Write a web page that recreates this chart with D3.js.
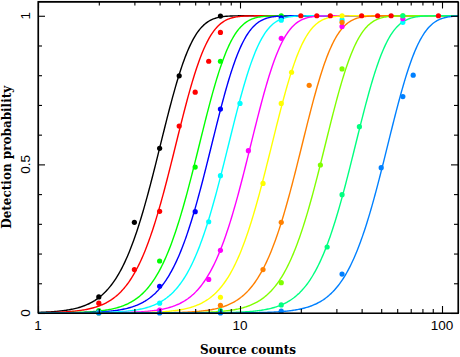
<!DOCTYPE html>
<html><head><meta charset="utf-8">
<script src="https://cdn.jsdelivr.net/npm/d3@7"></script>
<style>
html,body{margin:0;padding:0;background:#fff;}
svg{display:block;}
</style></head>
<body>
<svg id="chart" width="460" height="357"></svg>
<script>
// ---- data ----
const seriesColors = ["#000000","#ff0000","#00ff00","#0000ff","#00ffff","#ff00ff","#ffff00","#ff8000","#80ff00","#00ff80","#0080ff"];
// model-curve parameters (50% point, shared steepness)
const curveMid = [3.82, 4.55, 5.95, 6.85, 8.3, 10.7, 13.6, 19.2, 25.0, 35.3, 51.0];
const curveSharpness = 5.9;

// measured points [source counts, detection probability]
const blackPts   = [[2,0.054],[3,0.305],[4,0.554],[5,0.798],[8,0.999]];
const redPts     = [[2,0.033],[3,0.146],[4,0.342],[5,0.629],[6,0.743],[7,0.847],[8,0.944]];
const greenPts   = [[2,0.008],[4,0.175],[6,0.491],[8,0.847],[16,1.0]];
const bluePts    = [[2,0.003],[4,0.09],[6,0.341],[8,0.686],[16,0.993]];
const cyanPts    = [[2,0.002],[4,0.033],[7,0.307],[8,0.462],[10,0.705],[16,0.985],[32,0.986],[64,0.978]];
const magentaPts = [[4,0.01],[7,0.113],[8,0.211],[11,0.546],[16,0.924],[32,0.964],[64,0.99]];
const yellowPts  = [[8,0.053],[13,0.436],[16,0.705],[18,0.81],[32,1.0]];
const orangePts  = [[8,0.026],[13,0.146],[16,0.305],[22,0.766],[32,0.978]];
const chartPts   = [[2,0.0],[8,0.005],[16,0.102],[25,0.498],[32,0.821],[64,1.0]];
const springPts  = [[8,0.008],[16,0.027],[27,0.222],[32,0.398],[39,0.627],[64,1.0]];
const azurePts   = [[2,0.0],[4,0.0],[8,0.0],[16,0.006],[32,0.131],[50,0.489],[64,0.728],[72,0.80]];
const redTopPts  = [[20,1.0],[24,1.0],[28,1.0],[40,1.0],[48,1.0],[56,1.0],[96,1.0]];

const xMajor = [1, 10, 100];
const xMinor = [2,3,4,5,6,7,8,9,20,30,40,50,60,70,80,90];
const yMajor = [0, 0.5, 1];
const yMinor = [0.1,0.2,0.3,0.4,0.6,0.7,0.8,0.9];
const xTitle = "Source counts";
const yTitle = "Detection probability";

// ---- layout ----
const L = 38, R = 458, T = 1.5, B = 313;
const svg = d3.select("#chart");
const x = d3.scaleLog().domain([1, 120]).range([L, R]);
const y = d3.scaleLinear().domain([0, 1.048]).range([B, T]);

function erf(v){
  const s = v < 0 ? -1 : 1; v = Math.abs(v);
  const t = 1/(1+0.3275911*v);
  const p = t*(0.254829592+t*(-0.284496736+t*(1.421413741+t*(-1.453152027+t*1.061405429))));
  return s*(1 - p*Math.exp(-v*v));
}
function model(c, mid){
  const z = curveSharpness*(Math.sqrt(c/mid)-1);
  return 0.5*(1+erf(z/Math.SQRT2));
}

svg.append("defs").append("clipPath").attr("id","clip")
  .append("rect").attr("x",L).attr("y",T).attr("width",R-L).attr("height",B-T);

const gCurves = svg.append("g").attr("clip-path","url(#clip)");
const samples = d3.range(0, 401).map(i => Math.pow(10, Math.log10(120)*i/400));
const line = d3.line().x(d => x(d[0])).y(d => y(d[1]));
curveMid.forEach((m, i) => {
  gCurves.append("path")
    .attr("d", line(samples.map(c => [c, model(c, m)])))
    .attr("fill","none").attr("stroke", seriesColors[i]).attr("stroke-width",1.4);
});

const allPts = [blackPts, redPts, greenPts, bluePts, cyanPts, magentaPts, yellowPts, orangePts, chartPts, springPts, azurePts];
const gDots = svg.append("g");
gDots.selectAll("circle.red-top").data(redTopPts).enter().append("circle")
  .attr("cx", d => x(d[0])).attr("cy", d => y(d[1])).attr("r", 2.6).attr("fill", "#ff0000");
allPts.forEach((pts, i) => {
  gDots.selectAll("circle.s"+i).data(pts).enter().append("circle")
    .attr("class","s"+i)
    .attr("cx", d => x(d[0])).attr("cy", d => y(d[1])).attr("r", 2.6)
    .attr("fill", seriesColors[i]);
});

// ---- axes (ticks inward on all four sides) ----
function styleAxis(g){
  g.selectAll("path,line").attr("stroke","#000").attr("stroke-width",1.1);
  g.selectAll("text").remove();
}
svg.append("g").attr("transform",`translate(0,${B})`)
  .call(d3.axisBottom(x).tickValues(xMajor).tickSize(-7).tickSizeOuter(0)).call(styleAxis);
svg.append("g").attr("transform",`translate(0,${B})`)
  .call(d3.axisBottom(x).tickValues(xMinor).tickSize(-4).tickSizeOuter(0)).call(styleAxis);
svg.append("g").attr("transform",`translate(0,${T})`)
  .call(d3.axisTop(x).tickValues(xMajor).tickSize(-7).tickSizeOuter(0)).call(styleAxis);
svg.append("g").attr("transform",`translate(0,${T})`)
  .call(d3.axisTop(x).tickValues(xMinor).tickSize(-4).tickSizeOuter(0)).call(styleAxis);
svg.append("g").attr("transform",`translate(${L},0)`)
  .call(d3.axisLeft(y).tickValues(yMajor).tickSize(-7).tickSizeOuter(0)).call(styleAxis);
svg.append("g").attr("transform",`translate(${L},0)`)
  .call(d3.axisLeft(y).tickValues(yMinor).tickSize(-4).tickSizeOuter(0)).call(styleAxis);
svg.append("g").attr("transform",`translate(${R},0)`)
  .call(d3.axisRight(y).tickValues(yMajor).tickSize(-7).tickSizeOuter(0)).call(styleAxis);
svg.append("g").attr("transform",`translate(${R},0)`)
  .call(d3.axisRight(y).tickValues(yMinor).tickSize(-4).tickSizeOuter(0)).call(styleAxis);
// frame
svg.append("rect").attr("x",L).attr("y",T).attr("width",R-L).attr("height",B-T)
  .attr("fill","none").attr("stroke","#000").attr("stroke-width",1.1);

// tick labels
const fmt = d3.format("");
svg.append("g").selectAll("text").data(xMajor).enter().append("text")
  .attr("x", d => x(d)).attr("y", 330)
  .attr("text-anchor","middle").attr("font-family","Liberation Sans, Arial, sans-serif")
  .attr("font-size",13.5).attr("fill","#000").text(d => fmt(d));
svg.append("g").selectAll("text").data(yMajor).enter().append("text")
  .attr("transform", d => `translate(30,${y(d)}) rotate(-90)`)
  .attr("text-anchor","middle").attr("font-family","Liberation Sans, Arial, sans-serif")
  .attr("font-size",13.5).attr("fill","#000").text(d => fmt(d));

// titles
svg.append("text").attr("x",(L+R)/2).attr("y",354).attr("text-anchor","middle")
  .attr("font-family","DejaVu Serif, serif").attr("font-weight","bold")
  .attr("font-size",12).attr("fill","#000").text(xTitle);
svg.append("text").attr("transform",`translate(11,${(T+B)/2}) rotate(-90)`).attr("text-anchor","middle")
  .attr("font-family","DejaVu Serif, serif").attr("font-weight","bold")
  .attr("font-size",12).attr("fill","#000").text(yTitle);
</script>
</body></html>
